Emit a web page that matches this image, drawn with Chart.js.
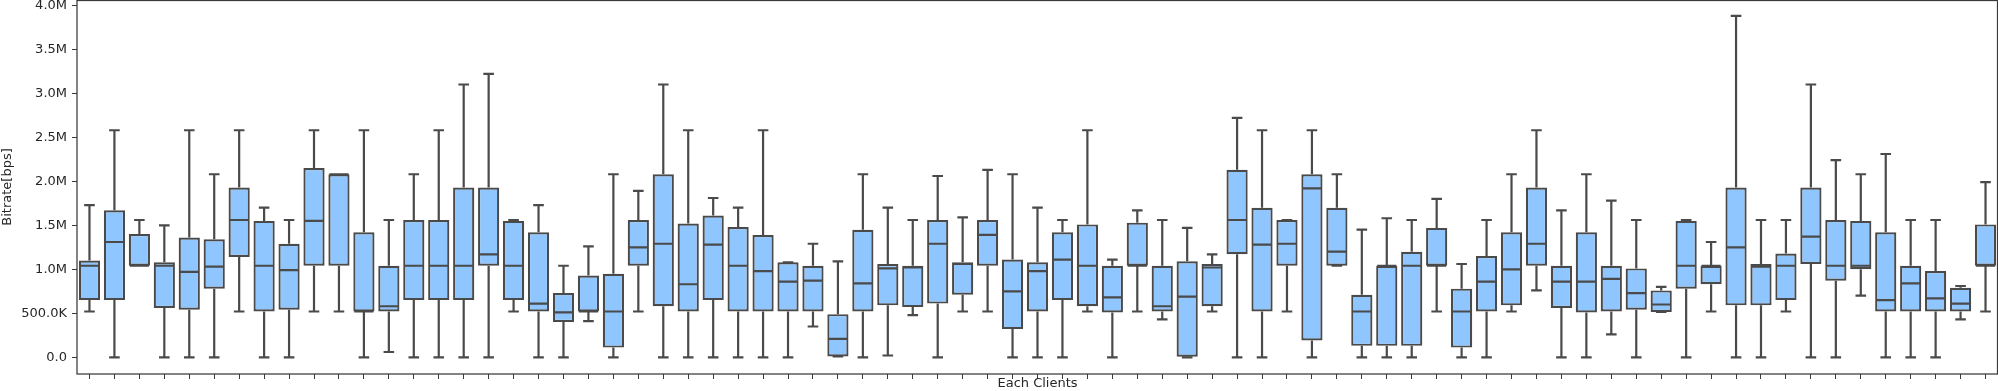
<!DOCTYPE html>
<html lang="en">
<head>
    <meta charset="UTF-8">
    <title>Bitrate per client</title>
    <style>
        body {
            margin: 0;
            padding: 0;
            background-color: #ffffff;
        }
        #boxChart {
            display: block;
        }
    </style>
</head>
<body>

<canvas id="boxChart" width="1998" height="391"></canvas>

<script src="https://cdn.jsdelivr.net/npm/chart.js"></script>
<script>
    // Box plot statistics per client, in Mbps
    var whiskerLow = [
        0.52, 0, 1.04, 0, 0, 0, 0.52, 0, 0, 0.52, 0.52, 0, 0.06, 0, 0, 0, 0, 0.52, 0, 0,
        0.41, 0, 0.52, 0, 0, 0, 0, 0, 0, 0.35, 0.01, 0, 0.02, 0.48, 0, 0.52, 0.52, 0, 0, 0,
        0.52, 0, 0.52, 0.43, 0, 0.52, 0, 0, 0.52, 0, 1.04, 0, 0, 0, 0.52, 0, 0, 0.52, 0.76, 0,
        0, 0.26, 0, 0.515, 0, 0.52, 0, 0, 0.52, 0, 0, 0.70, 0, 0, 0, 0.43, 0.52
    ];
    var quartile1 = [
        0.65, 0.65, 1.04, 0.56, 0.54, 0.78, 1.14, 0.52, 0.54, 1.04, 1.04, 0.52, 0.52, 0.65, 0.65, 0.65, 1.04, 0.65, 0.52, 0.40,
        0.52, 0.11, 1.04, 0.58, 0.52, 0.65, 0.52, 0.52, 0.52, 0.52, 0.01, 0.52, 0.59, 0.57, 0.61, 0.71, 1.04, 0.32, 0.52, 0.65,
        0.58, 0.51, 1.04, 0.52, 0, 0.58, 1.17, 0.52, 1.04, 0.19, 1.04, 0.13, 0.13, 0.13, 1.04, 0.11, 0.52, 0.59, 1.04, 0.56,
        0.51, 0.52, 0.54, 0.515, 0.78, 0.83, 0.59, 0.59, 0.65, 1.06, 0.87, 1.00, 0.52, 0.52, 0.52, 0.52, 1.04
    ];
    var medians = [
        1.04, 1.31, 1.04, 1.04, 0.97, 1.03, 1.56, 1.04, 0.99, 1.55, 2.08, 0.52, 0.58, 1.04, 1.04, 1.04, 1.17, 1.04, 0.61, 0.51,
        0.52, 0.52, 1.25, 1.29, 0.83, 1.28, 1.04, 0.98, 0.86, 0.87, 0.21, 0.84, 1.01, 1.02, 1.29, 1.06, 1.39, 0.75, 0.98, 1.11,
        1.04, 0.68, 1.04, 0.58, 0.69, 1.02, 1.56, 1.28, 1.29, 1.92, 1.20, 0.52, 1.04, 1.04, 1.04, 0.52, 0.86, 1.00, 1.29, 0.86,
        0.86, 0.89, 0.73, 0.60, 1.04, 1.04, 1.25, 1.03, 1.04, 1.37, 1.04, 1.04, 0.65, 0.84, 0.67, 0.61, 1.04
    ];
    var quartile3 = [
        1.10, 1.67, 1.40, 1.08, 1.36, 1.34, 1.93, 1.55, 1.29, 2.15, 2.08, 1.42, 1.04, 1.56, 1.56, 1.93, 1.93, 1.55, 1.42, 0.73,
        0.93, 0.95, 1.56, 2.08, 1.52, 1.61, 1.48, 1.39, 1.08, 1.04, 0.49, 1.45, 1.06, 1.04, 1.56, 1.08, 1.56, 1.11, 1.08, 1.42,
        1.51, 1.04, 1.53, 1.04, 1.09, 1.06, 2.13, 1.70, 1.56, 2.08, 1.70, 0.71, 1.04, 1.20, 1.47, 0.78, 1.15, 1.42, 1.93, 1.04,
        1.42, 1.04, 1.01, 0.76, 1.55, 1.04, 1.93, 1.06, 1.18, 1.93, 1.56, 1.55, 1.42, 1.04, 0.98, 0.79, 1.51
    ];
    var whiskerHigh = [
        1.73, 2.58, 1.56, 1.50, 2.58, 2.08, 2.58, 1.70, 1.56, 2.58, 2.08, 2.58, 1.56, 2.08, 2.58, 3.10, 3.22, 1.56, 1.73, 1.04,
        1.26, 2.08, 1.89, 3.10, 2.58, 1.81, 1.70, 2.58, 1.08, 1.29, 1.09, 2.08, 1.70, 1.56, 2.06, 1.59, 2.13, 2.08, 1.70, 1.56,
        2.58, 1.11, 1.67, 1.56, 1.47, 1.17, 2.72, 2.58, 1.56, 2.58, 2.08, 1.45, 1.58, 1.56, 1.80, 1.06, 1.56, 2.08, 2.58, 1.67,
        2.08, 1.78, 1.56, 0.80, 1.56, 1.31, 3.88, 1.56, 1.56, 3.10, 2.24, 2.08, 2.31, 1.56, 1.56, 0.81, 1.99
    ];

    var clients = whiskerLow.map(function (v, i) { return 'Client ' + (i + 1); });

    var yTickValues = [0, 0.5, 1.0, 1.5, 2.0, 2.5, 3.0, 3.5, 4.0];
    var yTickLabels = ['0.0', '500.0K', '1.0M', '1.5M', '2.0M', '2.5M', '3.0M', '3.5M', '4.0M'];

    var boxFill = '#8fc6ff';
    var lineColor = '#4a4a4a';
    var axisColor = '#3a3a3a';
    var textColor = '#262626';

    Chart.defaults.font.family = 'DejaVu Sans';
    Chart.defaults.font.size = 13;
    Chart.defaults.color = textColor;

    // Whiskers, caps and median lines drawn on top of the floating bars
    var boxPlotLines = {
        id: 'boxPlotLines',
        afterDatasetsDraw: function (chart) {
            var ctx = chart.ctx;
            var yScale = chart.scales.y;
            var bars = chart.getDatasetMeta(0).data;
            ctx.save();
            ctx.strokeStyle = lineColor;
            ctx.lineWidth = 2.2;
            ctx.lineCap = 'butt';
            bars.forEach(function (bar, i) {
                var x = bar.x;
                var half = bar.width / 2;
                var capHalf = bar.width / 4;
                var yLow = yScale.getPixelForValue(whiskerLow[i]);
                var yQ1 = yScale.getPixelForValue(quartile1[i]);
                var yMed = yScale.getPixelForValue(medians[i]);
                var yQ3 = yScale.getPixelForValue(quartile3[i]);
                var yHigh = yScale.getPixelForValue(whiskerHigh[i]);
                ctx.beginPath();
                // whiskers
                ctx.moveTo(x, yQ3);
                ctx.lineTo(x, yHigh);
                ctx.moveTo(x, yQ1);
                ctx.lineTo(x, yLow);
                // caps
                ctx.moveTo(x - capHalf, yHigh);
                ctx.lineTo(x + capHalf, yHigh);
                ctx.moveTo(x - capHalf, yLow);
                ctx.lineTo(x + capHalf, yLow);
                // median
                ctx.moveTo(x - half + 1, yMed);
                ctx.lineTo(x + half - 1, yMed);
                ctx.stroke();
            });
            ctx.restore();
        }
    };

    // Full frame round the plot area
    var frame = {
        id: 'frame',
        afterDraw: function (chart) {
            var a = chart.chartArea;
            var ctx = chart.ctx;
            ctx.save();
            ctx.strokeStyle = axisColor;
            ctx.lineWidth = 1.25;
            ctx.strokeRect(a.left, a.top + 0.5, a.right - a.left - 0.5, a.bottom - a.top - 0.5);
            ctx.restore();
        }
    };

    var ctx = document.getElementById('boxChart').getContext('2d');
    var myChart = new Chart(ctx, {
        type: 'bar',
        data: {
            labels: clients,
            datasets: [{
                label: 'Bitrate',
                data: quartile1.map(function (v, i) { return [v, quartile3[i]]; }),
                backgroundColor: boxFill,
                borderColor: lineColor,
                borderWidth: 2.2,
                borderSkipped: false,
                barPercentage: 0.85,
                categoryPercentage: 1.0
            }]
        },
        options: {
            responsive: false,
            animation: false,
            layout: { padding: 0 },
            plugins: {
                legend: { display: false },
                tooltip: { enabled: false }
            },
            scales: {
                x: {
                    offset: true,
                    border: { display: false },
                    grid: {
                        offset: false,
                        drawOnChartArea: false,
                        drawTicks: true,
                        tickLength: 5,
                        tickColor: axisColor,
                        tickWidth: 1
                    },
                    ticks: { display: false, autoSkip: false },
                    title: {
                        display: true,
                        text: 'Each Clients',
                        color: textColor,
                        padding: { top: 0, bottom: 0 },
                        font: { size: 13 }
                    },
                    afterFit: function (scale) {
                        scale.height = 17;
                        scale.paddingLeft = 0;
                        scale.paddingRight = 0;
                    }
                },
                y: {
                    min: -0.19,
                    max: 4.06,
                    border: { display: false },
                    grid: {
                        drawOnChartArea: false,
                        drawTicks: true,
                        tickLength: 5,
                        tickColor: axisColor,
                        tickWidth: 1
                    },
                    ticks: {
                        padding: 5,
                        color: textColor,
                        callback: function (value) {
                            var k = yTickValues.indexOf(value);
                            return k >= 0 ? yTickLabels[k] : '';
                        }
                    },
                    afterBuildTicks: function (scale) {
                        scale.ticks = yTickValues.map(function (v) { return { value: v }; });
                    },
                    title: {
                        display: true,
                        text: 'Bitrate[bps]',
                        color: textColor,
                        padding: { top: 0, bottom: 0 },
                        font: { size: 13 }
                    },
                    afterFit: function (scale) {
                        scale.width = 77;
                        scale.paddingTop = 0;
                        scale.paddingBottom = 0;
                    }
                }
            }
        },
        plugins: [boxPlotLines, frame]
    });
</script>

</body>
</html>
